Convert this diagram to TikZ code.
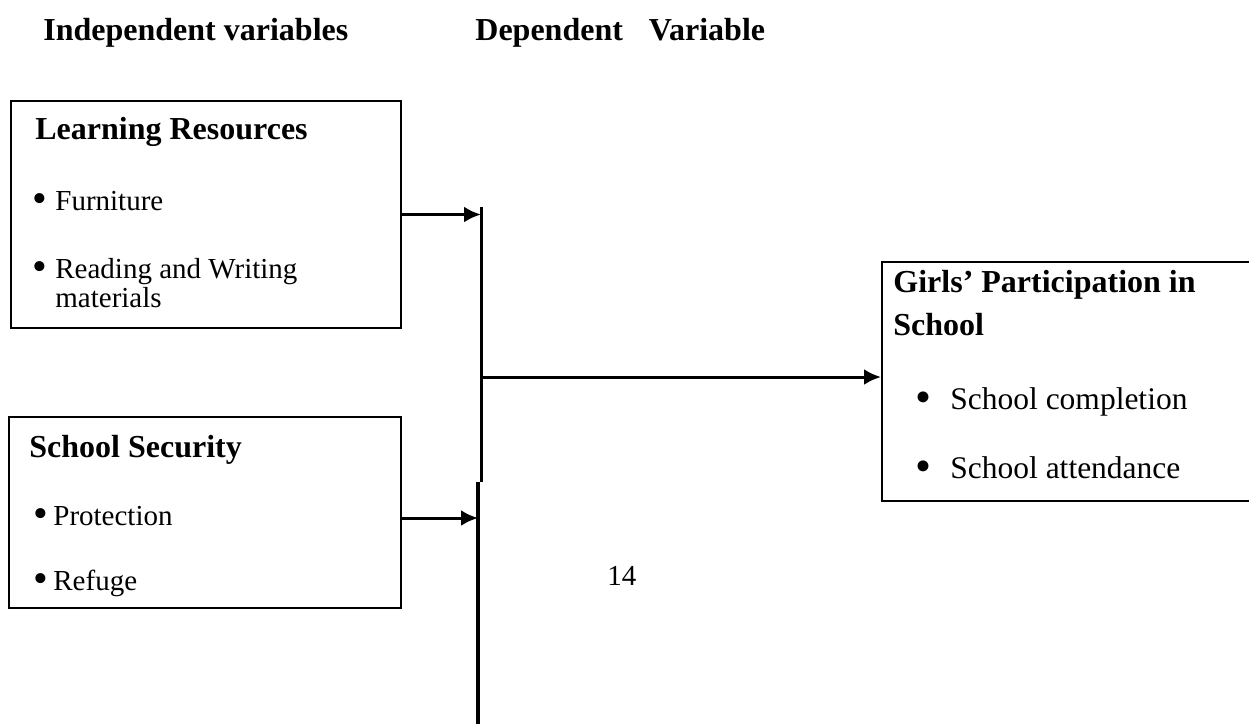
\documentclass[tikz,border=0pt]{standalone}
\usepackage{fontspec}
\setmainfont{Liberation Serif}
\usetikzlibrary{arrows.meta}
\tikzset{>={Latex[length=8.5pt,width=8pt]}}
\tikzset{
  varbox/.style={draw, line width=1pt, inner sep=0pt, anchor=north west},
  headtxt/.style={anchor=base west, inner sep=0pt, font=\fontsize{16}{19}\selectfont\bfseries},
  itemtxt/.style={anchor=base west, inner sep=0pt, font=\fontsize{14.5}{17}\selectfont},
  bigitemtxt/.style={anchor=base west, inner sep=0pt, font=\fontsize{15.75}{19}\selectfont},
  link/.style={->, line width=1.5pt}
}
\newcommand{\bul}[1]{\makebox[#1][l]{\raisebox{-0.1em}{\scalebox{1.45}{\textbullet}}}}

\begin{document}
\begin{tikzpicture}[x=0.5pt, y=-0.5pt]
\clip (0,0) rectangle (1249,724); % page size

\node[headtxt] (indep) at (43,40) {Independent variables};
\node[headtxt] (dep) at (475,40) {Dependent\hspace{13pt}Variable};

\node[varbox, minimum width=195pt, minimum height=113.5pt] (lres) at (10,100) {};
\node[headtxt] (lrestitle) at (35,139) {Learning Resources};
\node[itemtxt] (furn) at (32,210) {\bul{11.5pt}Furniture};
\node[itemtxt] (readw) at (32,278) {\bul{11.5pt}Reading and Writing};
\node[itemtxt] (mats) at (55,307) {materials};

\node[varbox, minimum width=196pt, minimum height=95.5pt] (ssec) at (8,416) {};
\node[headtxt] (sstitle) at (29,457) {School Security};
\node[itemtxt] (prot) at (33,525) {\bul{10pt}Protection};
\node[itemtxt] (refu) at (33,590) {\bul{10pt}Refuge};

\node[varbox, minimum width=200pt, minimum height=119.5pt] (gpart) at (881,261) {};
\node[headtxt] (gptitle) at (893,292) {Girls’ Participation in};
\node[headtxt] (gpschool) at (893,335) {School};
\node[bigitemtxt] (compl) at (915,409) {\bul{17.5pt}School completion};
\node[bigitemtxt] (attend) at (915,478) {\bul{17.5pt}School attendance};

\node[itemtxt] (pgno) at (607,585) {14};

\coordinate (busTop) at (481,207);
\coordinate (busJog) at (481,482);
\coordinate (busBot) at (478,724);
\coordinate (busOut) at (481,377);
\draw[line width=1.5pt] (busTop) -- (busJog);
\draw[line width=2pt] (busJog -| busBot) -- (busBot);

\draw[link] (lres.east) -- (lres.east -| busTop);
\draw[link] ([yshift=-2.75pt]ssec.east) -- ([yshift=-2.75pt]ssec.east -| busBot);
\draw[link] (busOut) -- (busOut -| gpart.west);
\end{tikzpicture}
\end{document}
